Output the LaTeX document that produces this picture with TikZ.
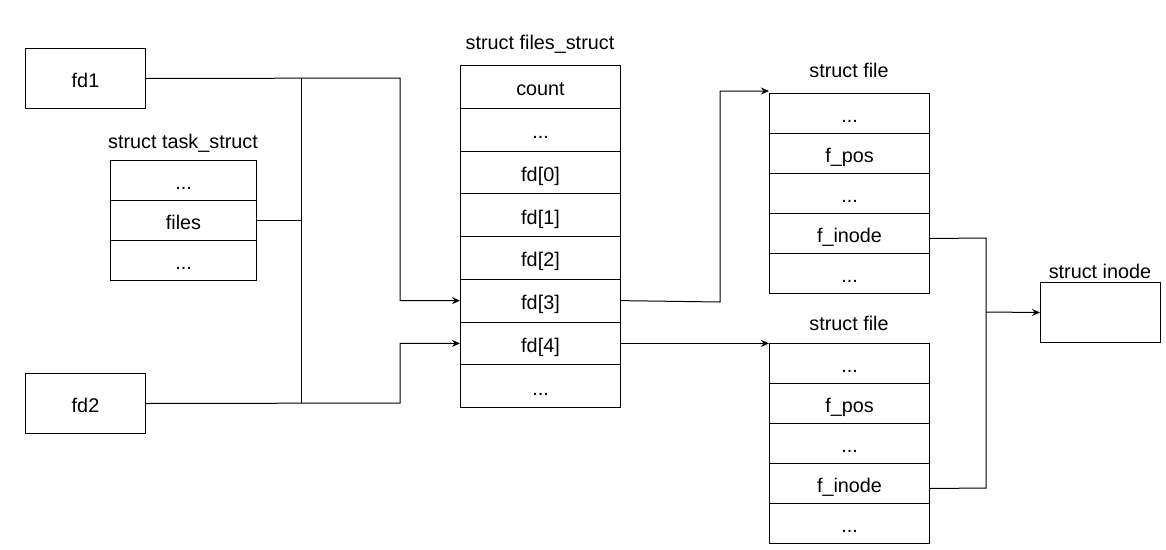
\documentclass[tikz,border=0pt]{standalone}
\usepackage{fontspec}
\setmainfont{Liberation Sans}
\usetikzlibrary{arrows.meta}
\begin{document}
\begin{tikzpicture}[x=1pt,y=-1pt,
  every node/.style={font=\fontsize{19.8}{23}\selectfont, inner sep=0pt},
  cell/.style 2 args={draw, line width=1pt, anchor=north west, minimum width=#1, minimum height=#2, text height=18pt, text depth=0pt},
  lbl/.style={anchor=base},
  wire/.style={line width=1pt, draw=black},
  arr/.style={wire, -{Stealth[length=8pt,width=7pt]}}]
\useasboundingbox (0,0) rectangle (1166,549);
% fd boxes
\node[cell={120pt}{60pt}] (fd1) at (25,48) {fd1};
\node[cell={120pt}{60pt}] (fd2) at (25,373) {fd2};
% task_struct
\node[lbl] (tlab) at (183,148) {struct task\_struct};
\node[cell={146pt}{40pt}] (t0) at (110,160) {...};
\node[cell={146pt}{40pt}] (t1) at (110,200) {files};
\node[cell={146pt}{40pt}] (t2) at (110,240) {...};
% files_struct
\node[lbl] (flab) at (540,49) {struct files\_struct};
\node[cell={160pt}{42.75pt}] (fs0) at (460,65) {count};
\node[cell={160pt}{42.75pt}] (fs1) at (460,107.75) {...};
\node[cell={160pt}{42.75pt}] (fs2) at (460,150.5) {fd[0]};
\node[cell={160pt}{42.75pt}] (fs3) at (460,193.25) {fd[1]};
\node[cell={160pt}{42.75pt}] (fs4) at (460,236) {fd[2]};
\node[cell={160pt}{42.75pt}] (fs5) at (460,278.75) {fd[3]};
\node[cell={160pt}{42.75pt}] (fs6) at (460,321.5) {fd[4]};
\node[cell={160pt}{42.75pt}] (fs7) at (460,364.25) {...};
% struct file A
\node[lbl] (alab) at (849,77.5) {struct file};
\node[cell={160pt}{40pt}] (fa0) at (769,93) {...};
\node[cell={160pt}{40pt}] (fa1) at (769,133) {f\_pos};
\node[cell={160pt}{40pt}] (fa2) at (769,173) {...};
\node[cell={160pt}{40pt}] (fa3) at (769,213) {f\_inode};
\node[cell={160pt}{40pt}] (fa4) at (769,253) {...};
% struct file B
\node[lbl] (blab) at (849,330.5) {struct file};
\node[cell={160pt}{40pt}] (fb0) at (769,343) {...};
\node[cell={160pt}{40pt}] (fb1) at (769,383) {f\_pos};
\node[cell={160pt}{40pt}] (fb2) at (769,423) {...};
\node[cell={160pt}{40pt}] (fb3) at (769,463) {f\_inode};
\node[cell={160pt}{40pt}] (fb4) at (769,503) {...};
% inode
\node[lbl] (ilab) at (1100,278.5) {struct inode};
\node[cell={120pt}{60pt}] (inode) at (1040,282) {};
% junction coordinates
\coordinate (j1) at (301,78);
\coordinate (j2) at (301,403);
\coordinate (kA) at (400,78);
\coordinate (kB) at (400,403);
\coordinate (kC) at (720,302);
\coordinate (m1) at (986,238);
\coordinate (m2) at (986,488);
\coordinate (m3) at (986,312);
% connectors
\draw[wire] (j1) -- (j2);
\draw[wire] (t1.east) -- (t1.east -| j1);
\draw[arr] (fd1.east) -- (kA) |- (fs5.west);
\draw[arr] (fd2.east) -- (kB) |- (fs6.west);
\draw[arr] (fs5.east) -- (kC) |- ([yshift=2pt]fa0.north west);
\draw[arr] (fs6.east) -- (fs6.east -| fb0.west);
\draw[wire] ([yshift=-5pt]fa3.east) -- (m1) -- (m2) -- ([yshift=-5pt]fb3.east);
\draw[arr] (m3) -- (inode.west);
\end{tikzpicture}
\end{document}
